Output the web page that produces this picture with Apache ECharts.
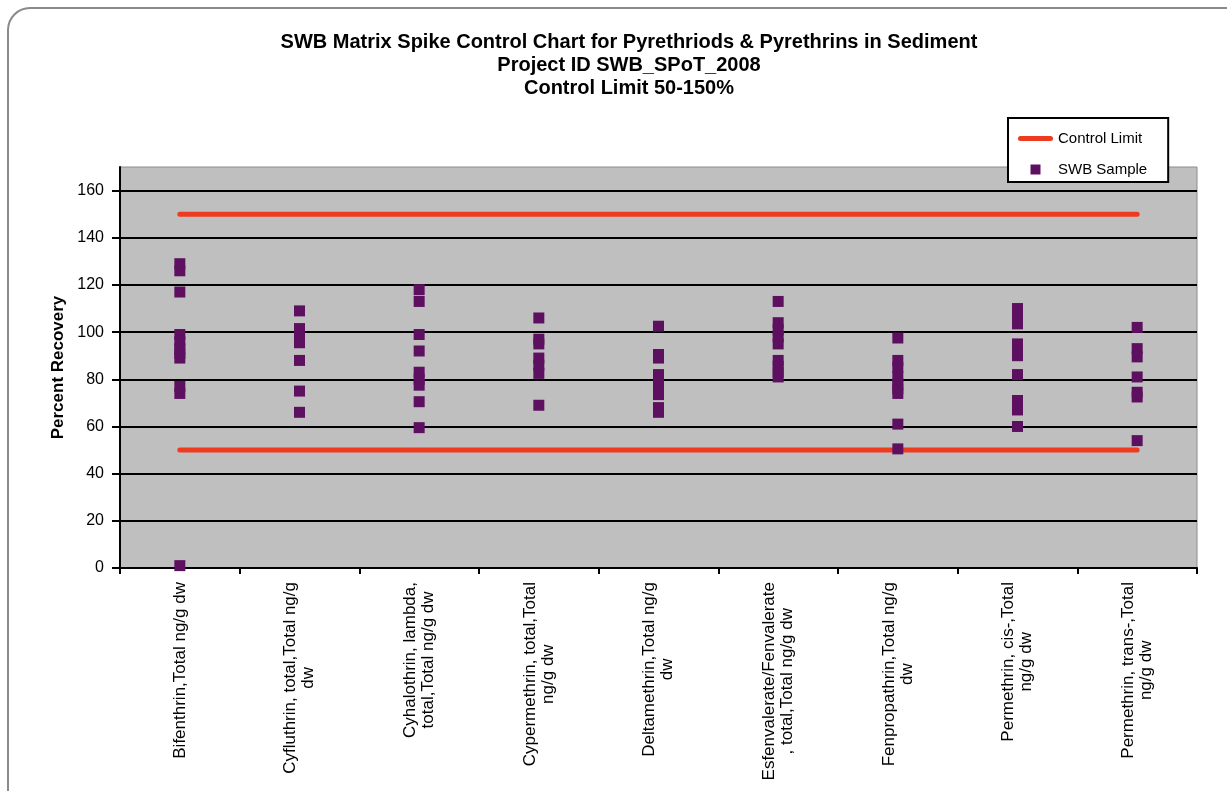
<!DOCTYPE html>
<html>
<head>
<meta charset="utf-8">
<title>SWB Matrix Spike Control Chart</title>
<script src="https://cdn.jsdelivr.net/npm/echarts@6/dist/echarts.min.js"></script>
<style>
html, body { margin: 0; padding: 0; background: #fff; }
#chart { width: 1227px; height: 791px; }
</style>
</head>
<body>
<div id="chart"></div>
<script>
const categories = [
	'Bifenthrin,Total ng/g dw',
	'Cyfluthrin, total,Total ng/g\ndw',
	'Cyhalothrin, lambda,\ntotal,Total ng/g dw',
	'Cypermethrin, total,Total\nng/g dw',
	'Deltamethrin,Total ng/g\ndw',
	'Esfenvalerate/Fenvalerate\n, total,Total ng/g dw',
	'Fenpropathrin,Total ng/g\ndw',
	'Permethrin, cis-,Total\nng/g dw',
	'Permethrin, trans-,Total\nng/g dw'
];

// percent recovery of each SWB sample, per analyte
const bifenthrin = [129, 126, 117, 99, 96, 93, 91, 89, 77, 74, 1];
const cyfluthrin = [109, 101.5, 98.5, 95.5, 88, 75, 66];
const cyhalothrin = [118, 113, 99, 92, 83, 80, 77.5, 70.5, 59.5];
const cypermethrin = [106, 97, 95, 89, 86, 82.5, 69];
const deltamethrin = [102.5, 90.5, 89, 82, 79, 76.5, 73.5, 68, 66];
const esfenvalerate = [113, 104, 101, 98, 95, 88, 85.5, 83, 81];
const fenpropathrin = [97.5, 88, 85, 81, 78, 76, 74, 61, 50.5];
const permethrinCis = [110, 107, 103.5, 95, 92.5, 90, 82, 71, 67, 60];
const permethrinTrans = [102, 93, 89.5, 81, 74.5, 72.5, 54];

const upperLimit = [150, 150, 150, 150, 150, 150, 150, 150, 150];
const lowerLimit = [50, 50, 50, 50, 50, 50, 50, 50, 50];

const samples = [bifenthrin, cyfluthrin, cyhalothrin, cypermethrin, deltamethrin,
	esfenvalerate, fenpropathrin, permethrinCis, permethrinTrans];

const sampleData = [];
samples.forEach(function (vals, i) {
	vals.forEach(function (v) {
		sampleData.push([i, v]);
	});
});

const font = '"Liberation Sans", Arial, sans-serif';
const red = '#EE3A1E';
const purple = '#5E1060';

const myChart = echarts.init(document.getElementById('chart'));

const option = {
	backgroundColor: '#ffffff',
	animation: false,
	graphic: [
		{
			type: 'rect',
			shape: { x: 8, y: 8, width: 1260, height: 830, r: 22 },
			style: { fill: 'none', stroke: '#8a8a8a', lineWidth: 2 },
			silent: true
		}
	],
	title: {
		text: 'SWB Matrix Spike Control Chart for Pyrethriods & Pyrethrins in Sediment\nProject ID SWB_SPoT_2008\nControl Limit 50-150%',
		left: 629,
		top: 31,
		padding: 0,
		textAlign: 'center',
		textStyle: {
			fontFamily: font,
			fontSize: 20,
			fontWeight: 'bold',
			lineHeight: 23,
			color: '#000'
		}
	},
	legend: {
		orient: 'vertical',
		left: 1008,
		top: 118,
		padding: [13, 21, 5, 10],
		itemWidth: 35,
		itemHeight: 10,
		itemGap: 16,
		backgroundColor: '#fff',
		borderColor: '#000',
		borderWidth: 2,
		borderRadius: 0,
		symbolKeepAspect: true,
		textStyle: { fontFamily: font, fontSize: 15, color: '#000' },
		data: [
			{ name: 'Control Limit', icon: 'path://M2.5,0 L32.5,0 A2.5,2.5 0 0 1 32.5,5 L2.5,5 A2.5,2.5 0 0 1 2.5,0 Z' },
			{ name: 'SWB Sample', icon: 'path://M0,0 L10,0 L10,10 L0,10 Z' }
		]
	},
	grid: {
		left: 120,
		right: 30,
		top: 167,
		bottom: 223,
		show: true,
		backgroundColor: '#C0BFC0',
		borderColor: '#8c8c8c',
		borderWidth: 1
	},
	xAxis: {
		type: 'category',
		data: categories,
		boundaryGap: true,
		axisLine: { lineStyle: { color: '#000', width: 2 } },
		axisTick: { show: true, length: 6, lineStyle: { color: '#000', width: 2 } },
		splitLine: { show: false },
		axisLabel: {
			interval: 0,
			rotate: 90,
			margin: 14,
			color: '#000',
			fontFamily: font,
			fontSize: 17,
			formatter: function (value) {
				return value.split('\n').map(function (s) { return '{c|' + s + '}'; }).join('\n');
			},
			rich: {
				c: { align: 'center', fontFamily: font, fontSize: 17, lineHeight: 18, color: '#000' }
			}
		}
	},
	yAxis: {
		type: 'value',
		min: 0,
		max: 170,
		interval: 20,
		name: 'Percent Recovery',
		nameLocation: 'middle',
		nameGap: 46,
		nameTextStyle: { fontFamily: font, fontSize: 17, fontWeight: 'bold', color: '#000' },
		axisLine: { show: true, lineStyle: { color: '#000', width: 2 } },
		axisTick: { show: true, length: 8, lineStyle: { color: '#000', width: 2 } },
		axisLabel: {
			margin: 16,
			color: '#000',
			fontFamily: font,
			fontSize: 16,
			showMaxLabel: false,
			formatter: function (v) { return v > 160 ? '' : String(v); }
		},
		splitLine: { show: true, showMaxLine: false, lineStyle: { color: '#000', width: 2 } }
	},
	series: [
		{
			name: 'Control Limit',
			type: 'line',
			data: upperLimit,
			symbol: 'none',
			z: 2,
			lineStyle: { color: red, width: 5, cap: 'round' },
			itemStyle: { color: red }
		},
		{
			name: 'Control Limit',
			type: 'line',
			data: lowerLimit,
			symbol: 'none',
			z: 2,
			lineStyle: { color: red, width: 5, cap: 'round' },
			itemStyle: { color: red }
		},
		{
			name: 'SWB Sample',
			type: 'scatter',
			data: sampleData,
			symbol: 'rect',
			symbolSize: 11,
			z: 3,
			itemStyle: { color: purple, opacity: 1 }
		}
	]
};

myChart.setOption(option);
</script>
</body>
</html>
